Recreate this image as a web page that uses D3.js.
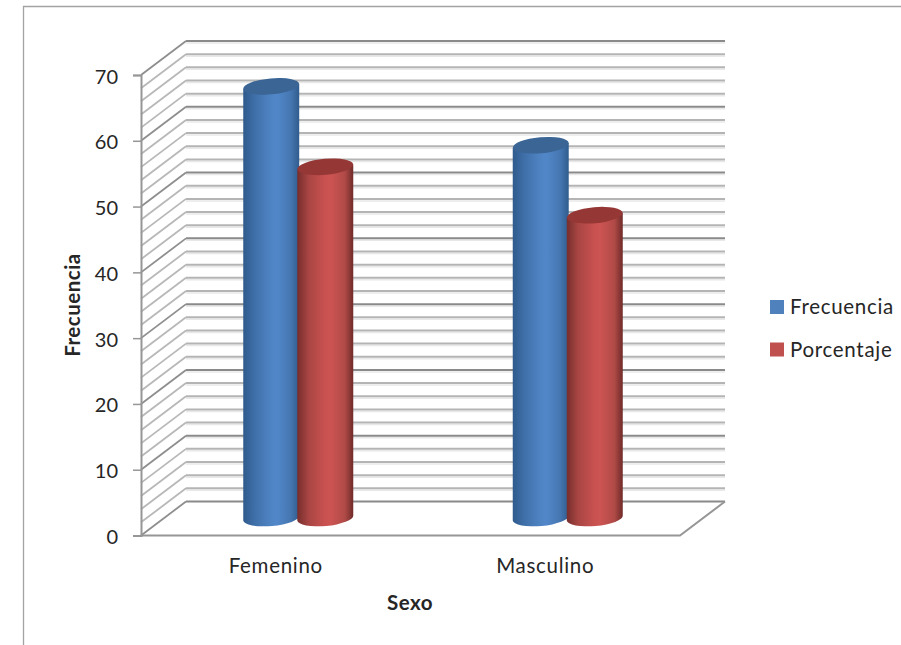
<!DOCTYPE html>
<html>
<head>
<meta charset="utf-8">
<script src="https://cdn.jsdelivr.net/npm/d3@7/dist/d3.min.js"></script>
<style>
  html, body { margin: 0; padding: 0; background: #fff; }
  svg { display: block; }
  text { font-family: Lato, "Open Sans", sans-serif; fill: #262626; }
</style>
</head>
<body>
<div id="chart"></div>
<script>
const categories = ["Femenino", "Masculino"];
const seriesNames = ["Frecuencia", "Porcentaje"];
const frecuencia = [66, 57];
const porcentaje = [53.7, 46.3];
const yTicks = [0, 10, 20, 30, 40, 50, 60, 70];
const gridValues = [0, 2, 4, 6, 8, 10, 12, 14, 16, 18, 20, 22, 24, 26, 28, 30, 32, 34,
  36, 38, 40, 42, 44, 46, 48, 50, 52, 54, 56, 58, 60, 62, 64, 66, 68, 70];

const width = 901, height = 645;
const plot = {left: 141, right: 680, top: 75, bottom: 535.5};
const depth = {x: 45, y: 34};

const svg = d3.select("#chart").append("svg")
  .attr("width", width)
  .attr("height", height);

const defs = svg.append("defs");

const colors = d3.scaleOrdinal().domain(seriesNames).range(["#4f81bd", "#c0504d"]);
const topColors = d3.scaleOrdinal().domain(seriesNames).range(["#3a6595", "#953735"]);

// Horizontal shading of the cylinders
const shades = [
  {name: "Frecuencia", stops: ["#2f5a8c", "#3f6fa8", "#4f84c4", "#5187c9", "#4576b0", "#305c8e"]},
  {name: "Porcentaje", stops: ["#762e2c", "#a84543", "#c95250", "#cc5452", "#b04a47", "#6f2b29"]}
];
shades.forEach(s => {
  const g = defs.append("linearGradient").attr("id", "shade-" + s.name);
  const at = [0, 0.2, 0.5, 0.6, 0.85, 1];
  s.stops.forEach((c, i) => g.append("stop").attr("offset", at[i]).attr("stop-color", c));
});

// Scales
const x = d3.scaleBand().domain(categories).range([plot.left, plot.right]);
const y = d3.scaleLinear().domain([0, 70]).range([plot.bottom, plot.top]);
const inner = d3.scaleBand().domain(seriesNames).range([-55, 55]).paddingInner(-0.036);
// bars stand half way into the floor, a bit shorter in perspective
const yBar = d3.scaleLinear().domain([0, 70]).range([518, 60.2]);

// Outer frame, cut by the page
svg.append("path")
  .attr("d", `M23.5,${height} V6.5 H${width}`)
  .attr("fill", "none")
  .attr("stroke", "#a3a3a3")
  .attr("stroke-width", 1.3);

const isMajor = d => d % 10 === 0;

// Floor
svg.append("path")
  .attr("d", `M${plot.left},${plot.bottom} l${depth.x},${-depth.y} H${plot.right + depth.x} l${-depth.x},${depth.y} Z`)
  .attr("fill", "#fff");

// Back wall lines, with the pale shadow under them
const grid = svg.append("g");
grid.selectAll(".shadow")
  .data(gridValues.filter(d => d > 0))
  .enter().append("line")
    .attr("class", "shadow")
    .attr("x1", plot.left + depth.x)
    .attr("x2", plot.right + depth.x)
    .attr("y1", d => y(d) - depth.y + 2)
    .attr("y2", d => y(d) - depth.y + 2)
    .attr("stroke", "#e8e8e8")
    .attr("stroke-width", 1.5);

grid.selectAll(".wall")
  .data(gridValues)
  .enter().append("line")
    .attr("class", "wall")
    .attr("x1", plot.left + depth.x)
    .attr("x2", plot.right + depth.x)
    .attr("y1", d => y(d) - depth.y)
    .attr("y2", d => y(d) - depth.y)
    .attr("stroke", d => isMajor(d) ? "#8a8a8a" : "#b4b4b4")
    .attr("stroke-width", 2);

// Side wall lines
grid.selectAll(".side")
  .data(gridValues)
  .enter().append("line")
    .attr("class", "side")
    .attr("x1", plot.left)
    .attr("x2", plot.left + depth.x)
    .attr("y1", d => y(d))
    .attr("y2", d => y(d) - depth.y)
    .attr("stroke", d => isMajor(d) ? "#8e8e8e" : "#b8b8b8")
    .attr("stroke-width", d => isMajor(d) ? 1.8 : 1.8);

// Floor front and right edge
svg.append("path")
  .attr("d", `M${plot.left},${plot.bottom} H${plot.right} l${depth.x},${-depth.y}`)
  .attr("fill", "none")
  .attr("stroke", "#969696")
  .attr("stroke-width", 2);

// Y axis
const yAxis = svg.append("g")
  .attr("transform", `translate(${plot.left},0)`)
  .call(d3.axisLeft(y).tickValues(yTicks).tickSize(8).tickPadding(15));
yAxis.selectAll("line").attr("stroke", "#969696").attr("stroke-width", 1.5);
yAxis.select(".domain").attr("stroke", "#969696").attr("stroke-width", 2);
yAxis.selectAll("text")
  .attr("dy", "0.4em")
  .style("font-size", "20px")
  .style("font-family", "Lato");

// X axis, labels only
const xAxis = svg.append("g")
  .attr("transform", `translate(0,${plot.bottom})`)
  .call(d3.axisBottom(x).tickSize(0).tickPadding(22.5));
xAxis.select(".domain").remove();
xAxis.selectAll("text")
  .style("font-size", "20.5px")
  .style("letter-spacing", "0.7px")
  .style("font-family", "Lato");

// Cylinders
const rx = inner.bandwidth() / 2;
const ry = 8;
const tilt = 2.5;

function cylinder(cx, topY, baseY) {
  return `M${cx - rx},${topY + tilt}`
    + `L${cx + rx},${topY - tilt}`
    + `L${cx + rx},${baseY - tilt}`
    + `A${rx},${ry} -5 0 1 ${cx - rx},${baseY + tilt} Z`;
}

const rows = [
  {name: "Frecuencia", values: frecuencia},
  {name: "Porcentaje", values: porcentaje}
];

categories.forEach((cat, c) => {
  rows.forEach(row => {
    const cx = x(cat) + x.bandwidth() / 2 + depth.x / 2 + inner(row.name) + rx;
    const topY = yBar(row.values[c]);
    const g = svg.append("g");
    g.append("path")
      .attr("d", cylinder(cx, topY, yBar(0)))
      .attr("fill", `url(#shade-${row.name})`);
    g.append("ellipse")
      .attr("cx", cx)
      .attr("cy", topY)
      .attr("rx", rx)
      .attr("ry", ry)
      .attr("transform", `rotate(-5 ${cx} ${topY})`)
      .attr("fill", topColors(row.name));
  });
});

// Axis titles
svg.append("text")
  .attr("transform", "translate(80,305) rotate(-90)")
  .attr("text-anchor", "middle")
  .style("font-size", "20.5px")
  .style("letter-spacing", "0.5px")
  .style("font-weight", "bold")
  .text("Frecuencia");

svg.append("text")
  .attr("x", 410)
  .attr("y", 610)
  .attr("text-anchor", "middle")
  .style("font-size", "20.5px")
  .style("letter-spacing", "0.5px")
  .style("font-weight", "bold")
  .text("Sexo");

// Legend
const legend = svg.append("g").attr("transform", "translate(770,300)");
const legendItems = legend.selectAll(".legend-item")
  .data(seriesNames)
  .enter().append("g")
    .attr("class", "legend-item")
    .attr("transform", (d, i) => `translate(0,${i * 42.5})`);

legendItems.append("rect")
  .attr("width", 14)
  .attr("height", 14)
  .attr("fill", d => colors(d));

legendItems.append("text")
  .attr("x", 20)
  .attr("y", 14)
  .style("font-size", "20.5px")
  .style("letter-spacing", "0.7px")
  .text(d => d);
</script>
</body>
</html>
